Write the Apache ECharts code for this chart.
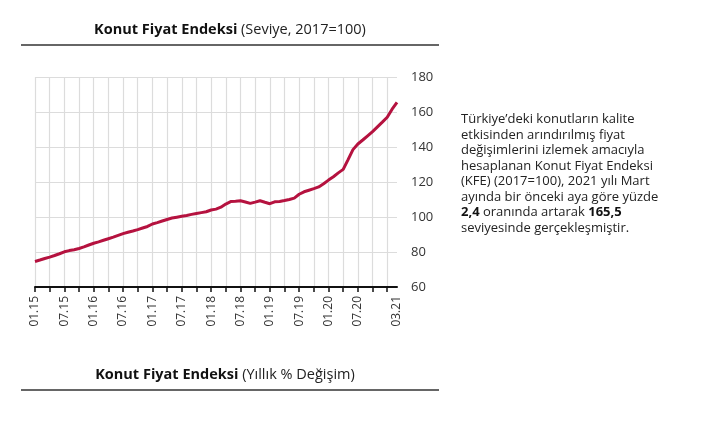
<!DOCTYPE html>
<html>
<head>
<meta charset="utf-8">
<script src="https://cdn.jsdelivr.net/npm/echarts@6/dist/echarts.min.js"></script>
<style>
  html, body { margin: 0; padding: 0; background: #fff; }
  #kfe { width: 707px; height: 421px; }
</style>
</head>
<body>
<div id="kfe"></div>
<script>
// aylar (AA.YY), 01.15 - 03.21
var months = [];
for (var y = 15; y <= 21; y++) {
    for (var m = 1; m <= 12; m++) {
        if (y === 21 && m > 3) break;
        months.push((m < 10 ? '0' + m : '' + m) + '.' + y);
    }
}

// KFE seviye (2017=100), resimden okunan yaklaşık değerler
var kfe2015 = [74.6, 75.4, 76.3, 77.1, 78.0, 79.0, 80.1, 80.8, 81.3, 82.0, 82.9, 84.0];
var kfe2016 = [85.0, 85.8, 86.7, 87.6, 88.5, 89.5, 90.5, 91.3, 92.0, 92.8, 93.7, 94.6];
var kfe2017 = [96.0, 96.8, 97.7, 98.6, 99.4, 99.9, 100.4, 100.9, 101.5, 102.0, 102.5, 103.0];
var kfe2018 = [104.0, 104.5, 105.6, 107.4, 108.8, 109.0, 109.3, 108.6, 107.8, 108.5, 109.3, 108.4];
var kfe2019 = [107.6, 108.7, 108.9, 109.4, 110.0, 110.8, 113.0, 114.4, 115.3, 116.2, 117.2, 119.0];
var kfe2020 = [121.1, 123.0, 125.2, 127.2, 132.8, 138.5, 141.7, 144.0, 146.4, 148.8, 151.5, 154.2];
var kfe2021 = [157.0, 161.6, 165.5];
var kfe = [].concat(kfe2015, kfe2016, kfe2017, kfe2018, kfe2019, kfe2020, kfe2021);

var yTicks = [60, 80, 100, 120, 140, 160, 180];

var lastIdx = months.length - 1;

var myChart = echarts.init(document.getElementById('kfe'));

var option = {
    backgroundColor: '#fff',
    animation: false,
    textStyle: { fontFamily: 'Open Sans' },
    title: [{
        text: '{b|Konut Fiyat Endeksi} (Seviye, 2017=100)',
        left: 225,
        top: 17,
        textAlign: 'center',
        textStyle: {
            fontSize: 14.5,
            fontWeight: 'normal',
            color: '#222',
            fontFamily: 'Open Sans',
            rich: { b: { fontSize: 14.5, fontWeight: 'bold', color: '#111', fontFamily: 'Open Sans' } }
        }
    }, {
        text: '{b|Konut Fiyat Endeksi} (Yıllık % Değişim)',
        left: 220,
        top: 362,
        textAlign: 'center',
        textStyle: {
            fontSize: 14.5,
            fontWeight: 'normal',
            color: '#222',
            fontFamily: 'Open Sans',
            rich: { b: { fontSize: 14.5, fontWeight: 'bold', color: '#111', fontFamily: 'Open Sans' } }
        }
    }],
    graphic: [{
        type: 'line',
        shape: { x1: 21, y1: 45, x2: 439, y2: 45 },
        style: { stroke: '#666', lineWidth: 2 }
    }, {
        type: 'line',
        shape: { x1: 21, y1: 390, x2: 439, y2: 390 },
        style: { stroke: '#666', lineWidth: 2 }
    }, {
        type: 'text',
        left: 461,
        top: 112,
        style: {
            text: 'Türkiye’deki konutların kalite\n' +
                'etkisinden arındırılmış fiyat\n' +
                'değişimlerini izlemek amacıyla\n' +
                'hesaplanan Konut Fiyat Endeksi\n' +
                '(KFE) (2017=100), 2021 yılı Mart\n' +
                'ayında bir önceki aya göre yüzde\n' +
                '{b|2,4} oranında artarak {b|165,5}\n' +
                'seviyesinde gerçekleşmiştir.',
            fontSize: 13,
            lineHeight: 15.5,
            fontFamily: 'Open Sans',
            fill: '#222',
            rich: {
                b: { fontSize: 13, lineHeight: 15.5, fontWeight: 'bold', fontFamily: 'Open Sans', fill: '#111' }
            }
        }
    }],
    grid: {
        left: 35,
        right: 310,
        top: 77,
        bottom: 134
    },
    xAxis: {
        type: 'category',
        data: months,
        boundaryGap: false,
        axisLine: { lineStyle: { color: '#111', width: 2 } },
        axisTick: {
            interval: function (i) { return i % 3 === 0; },
            length: 5,
            lineStyle: { color: '#111', width: 1.5 }
        },
        axisLabel: {
            interval: function (i) { return (i % 6 === 0 && i < 72) || i === lastIdx; },
            hideOverlap: false,
            rotate: 90,
            margin: 9,
            fontSize: 12,
            color: '#333',
            fontFamily: 'Open Sans'
        },
        splitLine: {
            show: true,
            interval: function (i) { return i % 3 === 0; },
            lineStyle: { color: '#dcdcdc', width: 1.2 }
        }
    },
    yAxis: {
        type: 'value',
        position: 'right',
        min: yTicks[0],
        max: yTicks[yTicks.length - 1],
        interval: 20,
        axisLine: { show: false },
        axisTick: { show: false },
        axisLabel: {
            margin: 14,
            fontSize: 13,
            color: '#333',
            fontFamily: 'Open Sans'
        },
        splitLine: { lineStyle: { color: '#dcdcdc', width: 1.2 } }
    },
    series: [{
        type: 'line',
        data: kfe,
        symbol: 'none',
        lineStyle: { color: '#b5123f', width: 3 },
        z: 3
    }]
};

myChart.setOption(option);
</script>
</body>
</html>
